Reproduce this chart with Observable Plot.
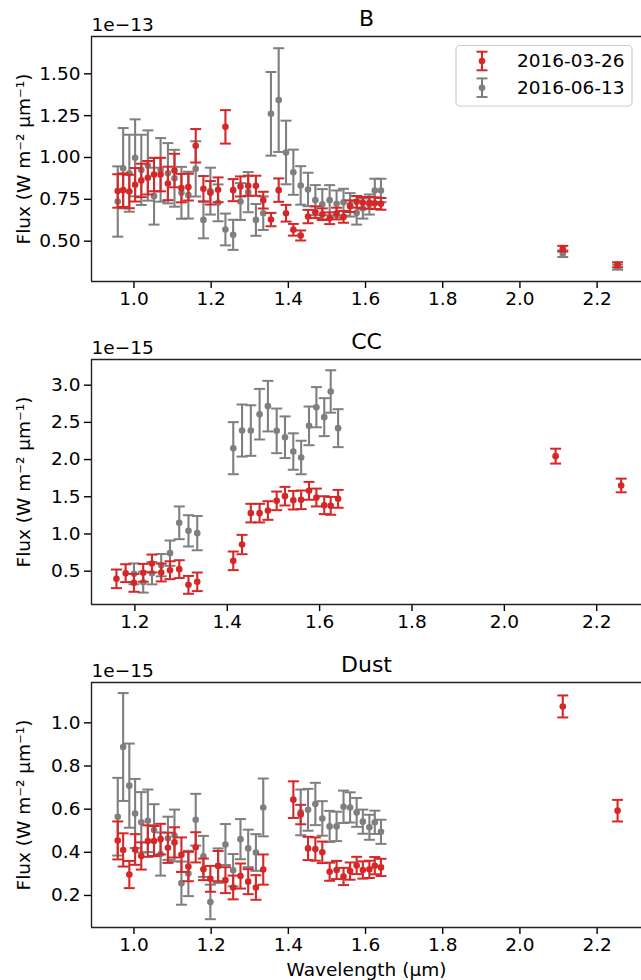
<!DOCTYPE html>
<html>
<head>
<meta charset="utf-8">
<script src="https://cdn.jsdelivr.net/npm/d3@7"></script>
<script src="https://cdn.jsdelivr.net/npm/@observablehq/plot@0.6"></script>
<style>
  html, body { margin: 0; padding: 0; background: #fff; }
  body { width: 641px; height: 980px; overflow: hidden; position: relative; }
  #chart svg { display: block; }
  #legend { position: absolute; left: 0; top: 0; }
</style>
</head>
<body>
<div id="chart"></div>
<script>
// ---------------- data ----------------
const wavelengths = [0.958, 0.972, 0.988, 1.003, 1.019, 1.036, 1.052, 1.069, 1.088, 1.105,
  1.123, 1.141, 1.160, 1.180, 1.198, 1.218, 1.237, 1.257, 1.276, 1.296,
  1.316, 1.335, 1.355, 1.375, 1.394, 1.413, 1.432, 1.451, 1.470, 1.488,
  1.507, 1.525, 1.543, 1.560, 1.577, 1.593, 1.610, 1.624, 1.640, 2.111, 2.253];

const dates = ["2016-03-26", "2016-06-13"];

// Panel B (units of 1e-13)
const B_0326_flux = [0.80, 0.805, 0.797, 0.837, 0.863, 0.879, 0.898, 0.898, 0.845, 0.922,
  0.817, 0.823, 1.070, 0.813, 0.789, 0.807, 1.183, 0.805, 0.827, 0.831,
  0.831, 0.745, 0.629, 0.805, 0.667, 0.568, 0.534, 0.647, 0.673, 0.661,
  0.637, 0.665, 0.645, 0.709, 0.735, 0.729, 0.729, 0.727, 0.723, 0.455, 0.359];
const B_0326_err = [0.10, 0.10, 0.10, 0.10, 0.10, 0.10, 0.10, 0.10, 0.10, 0.10,
  0.085, 0.08, 0.10, 0.076, 0.07, 0.074, 0.10, 0.066, 0.06, 0.06,
  0.06, 0.05, 0.04, 0.07, 0.05, 0.035, 0.03, 0.04, 0.035, 0.035,
  0.035, 0.035, 0.035, 0.035, 0.035, 0.035, 0.035, 0.035, 0.035, 0.017, 0.015];
const B_0613_flux = [0.737, 0.936, 0.906, 0.998, 0.926, 0.952, 0.769, 0.926, 0.906, 0.876,
  0.789, 0.775, 0.932, 0.627, 0.799, 0.729, 0.570, 0.538, 0.737, 0.793,
  0.627, 0.667, 1.261, 1.343, 1.030, 0.912, 0.833, 0.809, 0.745, 0.721,
  0.745, 0.723, 0.733, 0.717, 0.669, 0.695, 0.719, 0.803, 0.803, 0.425, 0.345];
const B_0613_err = [0.21, 0.24, 0.23, 0.23, 0.21, 0.21, 0.17, 0.19, 0.18, 0.17,
  0.155, 0.14, 0.165, 0.11, 0.14, 0.11, 0.095, 0.09, 0.11, 0.12,
  0.095, 0.10, 0.25, 0.31, 0.19, 0.135, 0.115, 0.10, 0.09, 0.09,
  0.09, 0.08, 0.08, 0.07, 0.07, 0.06, 0.06, 0.07, 0.07, 0.02, 0.015];

// Panel CC (units of 1e-15)
const CC_0326_flux = [null, null, null, null, null, null, null, null, null, null,
  null, null, 0.397, 0.473, 0.343, 0.478, 0.603, 0.482, 0.513, 0.527,
  0.316, 0.357, null, null, null, 0.639, 0.858, 1.28, 1.28, 1.315,
  1.445, 1.508, 1.454, 1.459, 1.58, 1.49, 1.387, 1.378, 1.472, 2.046, 1.652];
const CC_0326_err = [null, null, null, null, null, null, null, null, null, null,
  null, null, 0.125, 0.12, 0.12, 0.12, 0.12, 0.12, 0.12, 0.12,
  0.12, 0.125, null, null, null, 0.125, 0.13, 0.125, 0.125, 0.125,
  0.125, 0.125, 0.125, 0.125, 0.12, 0.12, 0.12, 0.12, 0.12, 0.10, 0.092];
const CC_0613_flux = [null, null, null, null, null, null, null, null, null, null,
  null, null, null, null, 0.464, 0.352, 0.473, 0.581, 0.742, 1.15,
  1.042, 1.011, null, null, null, 2.153, 2.39, 2.39, 2.61, 2.718,
  2.386, 2.30, 2.108, 2.028, 2.453, 2.704, 2.57, 2.915, 2.422, null, null];
const CC_0613_err = [null, null, null, null, null, null, null, null, null, null,
  null, null, null, null, 0.14, 0.14, 0.15, 0.15, 0.17, 0.22,
  0.21, 0.23, null, null, null, 0.35, 0.35, 0.34, 0.34, 0.34,
  0.30, 0.28, 0.245, 0.225, 0.26, 0.27, 0.255, 0.285, 0.255, null, null];

// Panel Dust (units of 1e-15)
const Dust_0326_flux = [0.455, 0.411, 0.297, 0.413, 0.383, 0.452, 0.452, 0.461, 0.421, 0.446,
  0.389, 0.334, 0.423, 0.321, 0.277, 0.336, 0.271, 0.237, 0.290, 0.264,
  0.237, 0.320, null, null, null, 0.644, 0.575, 0.418, 0.415, 0.400,
  0.310, 0.318, 0.288, 0.313, 0.339, 0.318, 0.321, 0.338, 0.330, 1.076, 0.593];
const Dust_0326_err = [0.088, 0.077, 0.063, 0.071, 0.063, 0.073, 0.07, 0.071, 0.07, 0.07,
  0.08, 0.068, 0.07, 0.05, 0.06, 0.07, 0.06, 0.055, 0.058, 0.058,
  0.057, 0.07, null, null, null, 0.085, 0.045, 0.054, 0.054, 0.05,
  0.042, 0.042, 0.04, 0.04, 0.04, 0.04, 0.04, 0.04, 0.04, 0.051, 0.05];
const Dust_0613_flux = [0.565, 0.888, 0.709, 0.580, 0.539, 0.546, 0.503, 0.392, 0.465, 0.478,
  0.257, 0.302, 0.551, 0.381, 0.170, 0.338, 0.436, 0.317, 0.461, 0.418,
  0.399, 0.608, null, null, null, null, 0.585, 0.597, 0.624, 0.557,
  0.520, 0.520, 0.611, 0.608, 0.585, 0.542, 0.516, 0.539, 0.495, null, null];
const Dust_0613_err = [0.18, 0.25, 0.195, 0.16, 0.14, 0.145, 0.12, 0.10, 0.10, 0.12,
  0.10, 0.105, 0.12, 0.095, 0.08, 0.08, 0.095, 0.075, 0.093, 0.087,
  0.085, 0.134, null, null, null, null, 0.106, 0.097, 0.098, 0.08,
  0.072, 0.068, 0.075, 0.07, 0.067, 0.056, 0.058, 0.054, 0.056, null, null];

// tick values
const xTicksB = [1.0, 1.2, 1.4, 1.6, 1.8, 2.0, 2.2];
const xTicksCC = [1.2, 1.4, 1.6, 1.8, 2.0, 2.2];
const yTicksB = [0.50, 0.75, 1.00, 1.25, 1.50];
const yTicksCC = [0.5, 1.0, 1.5, 2.0, 2.5, 3.0];
const yTicksDust = [0.2, 0.4, 0.6, 0.8, 1.0];

// ---------------- styling ----------------
const RED = "#d62728";
const GRAY = "#7f7f7f";
const FONT = "'DejaVu Sans', sans-serif";
const FS = 18.5;
const YLABEL = "Flux (W m\u207B\u00B2 \u00B5m\u207B\u00B9)";

const capSymbol = {
  draw(context, size) {
    const r = Math.sqrt(size / Math.PI);
    context.moveTo(-r, 0);
    context.lineTo(r, 0);
  }
};

function rows(flux, err) {
  const out = [];
  wavelengths.forEach((w, i) => {
    if (flux[i] != null) out.push({w, f: flux[i], lo: flux[i] - err[i], hi: flux[i] + err[i]});
  });
  return out;
}

function seriesMarks(data, color) {
  return [
    Plot.ruleX(data, {x: "w", y1: "lo", y2: "hi", stroke: color, strokeWidth: 2.1}),
    Plot.dot(data, {x: "w", y: "lo", symbol: capSymbol, r: 5.5, stroke: color, strokeWidth: 2, fill: "none"}),
    Plot.dot(data, {x: "w", y: "hi", symbol: capSymbol, r: 5.5, stroke: color, strokeWidth: 2, fill: "none"}),
    Plot.dot(data, {x: "w", y: "f", r: 3.3, fill: color, stroke: "none"})
  ];
}

function panel(o) {
  const [x0, x1] = o.xDomain;
  const [y0, y1] = o.yDomain;
  const marks = [
    Plot.axisX({ticks: o.xTicks, tickSize: 7, tickPadding: 3, tickFormat: d3.format(".1f"), label: null, strokeWidth: 1.4, fontSize: FS}),
    Plot.axisY({ticks: o.yTicks, tickSize: 7, tickPadding: 4, tickFormat: d3.format(o.yFmt), label: null, strokeWidth: 1.4, fontSize: FS}),
    ...seriesMarks(o.gray, GRAY),
    ...seriesMarks(o.red, RED),
    Plot.ruleX([x0], {stroke: "#222", strokeWidth: 1.4}),
    Plot.ruleY([y0, y1], {stroke: "#222", strokeWidth: 1.4}),
    Plot.text([o.title], {frameAnchor: "top", textAnchor: "middle", lineAnchor: "middle", dy: -18, fontSize: 22, fill: "#000"}),
    Plot.text([o.offset], {frameAnchor: "top-left", textAnchor: "start", lineAnchor: "middle", dy: -11, fontSize: FS, fill: "#000"}),
    Plot.text([YLABEL], {frameAnchor: "left", textAnchor: "middle", lineAnchor: "middle", rotate: -90, dx: -67, fontSize: FS, fill: "#000"})
  ];
  if (o.xLabel) marks.push(Plot.text([o.xLabel], {frameAnchor: "bottom", textAnchor: "middle", lineAnchor: "middle", dy: 43, fontSize: FS, fill: "#000"}));
  return Plot.plot({
    width: 641,
    height: o.height,
    marginLeft: 91,
    marginRight: 0,
    marginTop: 36,
    marginBottom: o.height - 281,
    style: {fontFamily: FONT, fontSize: FS + "px", color: "#000", background: "#fff", overflow: "visible"},
    x: {domain: o.xDomain},
    y: {domain: o.yDomain},
    marks
  });
}

const chart = document.getElementById("chart");

chart.appendChild(panel({
  title: "B", offset: "1e\u221213",
  xDomain: [0.890, 2.315], yDomain: [0.259, 1.723],
  xTicks: xTicksB, yTicks: yTicksB, yFmt: ".2f",
  red: rows(B_0326_flux, B_0326_err), gray: rows(B_0613_flux, B_0613_err),
  height: 323
}));

chart.appendChild(panel({
  title: "CC", offset: "1e\u221215",
  xDomain: [1.106, 2.297], yDomain: [0.052, 3.345],
  xTicks: xTicksCC, yTicks: yTicksCC, yFmt: ".1f",
  red: rows(CC_0326_flux, CC_0326_err), gray: rows(CC_0613_flux, CC_0613_err),
  height: 323
}));

chart.appendChild(panel({
  title: "Dust", offset: "1e\u221215",
  xDomain: [0.890, 2.315], yDomain: [0.0515, 1.187],
  xTicks: xTicksB, yTicks: yTicksDust, yFmt: ".1f",
  red: rows(Dust_0326_flux, Dust_0326_err), gray: rows(Dust_0613_flux, Dust_0613_err),
  height: 334, xLabel: "Wavelength (\u00B5m)"
}));

// ---------------- legend (inside panel B) ----------------
const NS = "http://www.w3.org/2000/svg";
const leg = document.createElementNS(NS, "svg");
leg.setAttribute("id", "legend");
leg.setAttribute("width", 641);
leg.setAttribute("height", 120);
leg.style.fontFamily = FONT;
document.body.appendChild(leg);
function el(tag, attrs, parent) {
  const e = document.createElementNS(NS, tag);
  for (const k in attrs) e.setAttribute(k, attrs[k]);
  (parent || leg).appendChild(e);
  return e;
}
el("rect", {x: 456, y: 45.5, width: 176, height: 60.5, rx: 4, fill: "#fff", "fill-opacity": 0.8, stroke: "#cccccc", "stroke-width": 1.2});
[[dates[0], RED, 61], [dates[1], GRAY, 87.7]].forEach(([label, color, cy]) => {
  const cx = 482;
  el("line", {x1: cx, x2: cx, y1: cy - 9.3, y2: cy + 9.3, stroke: color, "stroke-width": 2.1});
  el("line", {x1: cx - 5.5, x2: cx + 5.5, y1: cy - 9.3, y2: cy - 9.3, stroke: color, "stroke-width": 2});
  el("line", {x1: cx - 5.5, x2: cx + 5.5, y1: cy + 9.3, y2: cy + 9.3, stroke: color, "stroke-width": 2});
  el("circle", {cx, cy, r: 3.3, fill: color});
  const t = el("text", {x: 517, y: cy, dy: "0.35em", "font-size": FS, fill: "#000"});
  t.textContent = label;
});
</script>
</body>
</html>
